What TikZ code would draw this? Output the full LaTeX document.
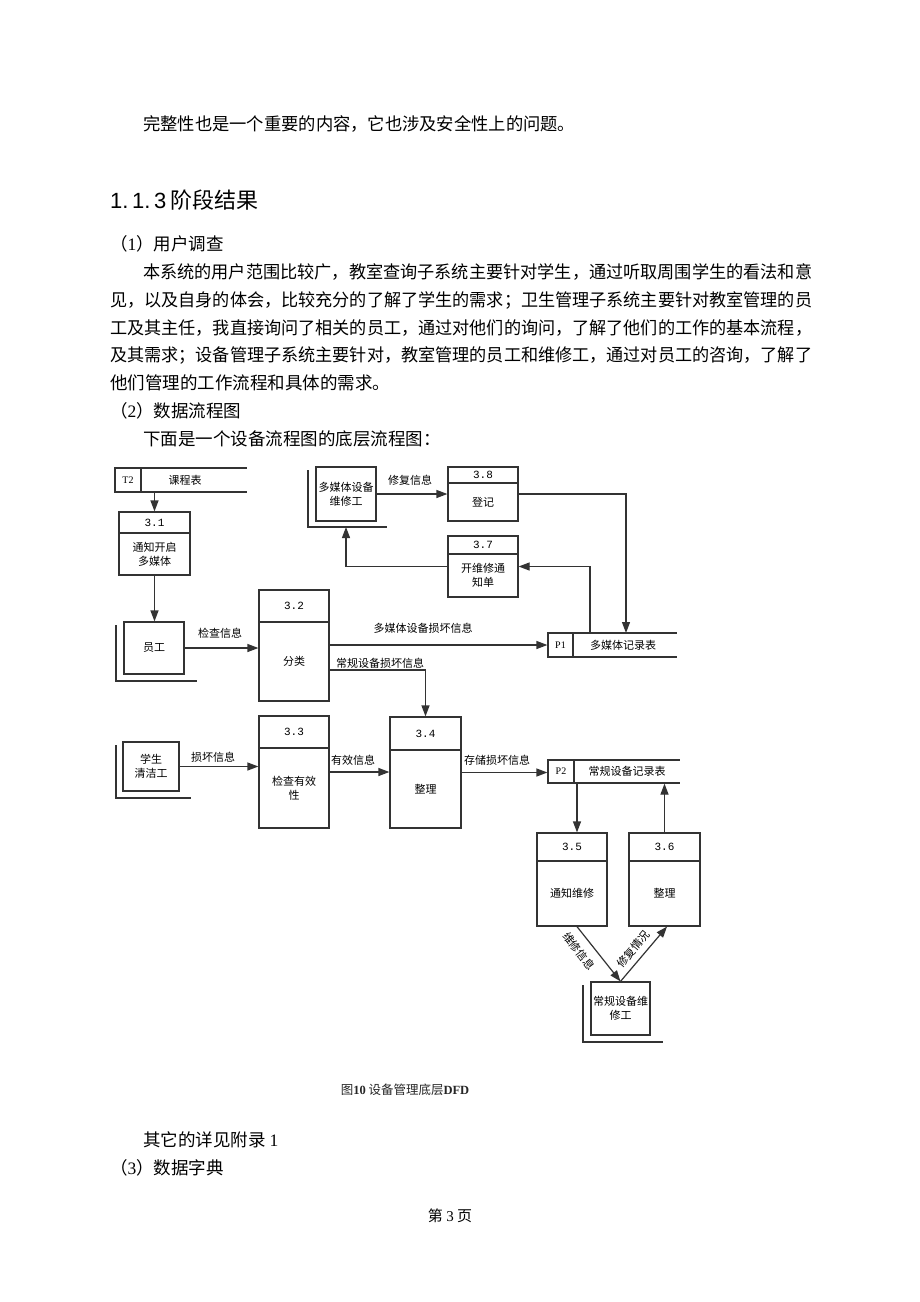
\documentclass[tikz,border=0pt]{standalone}
\usepackage{graphicx}
\usepackage{fontspec}
\setmainfont{Liberation Serif}
\newfontfamily\cjk{Noto Sans CJK SC}
\newfontfamily\arialf{Liberation Sans}
\newfontfamily\monof{Liberation Mono}
\usetikzlibrary{arrows.meta,calc}
\tikzset{
 ln/.style={draw=black!80, line width=1.2pt},
 arr/.style={ln, -{Triangle[length=11pt,width=8pt]}},
 box/.style={ln, rectangle, inner sep=0pt, fill=white},
 dtxt/.style={font=\cjk\fontsize{11}{14}\selectfont, inner sep=0pt, align=center},
 num/.style={font=\monof\fontsize{11}{13}\selectfont, inner sep=0pt},
 sid/.style={font=\rmfamily\fontsize{10}{12}\selectfont},
 btxt/.style={font=\cjk\fontsize{17.5}{20}\selectfont, inner sep=0pt, anchor=west},
}
% process box: name, x1, y1, x2, y2, divider y, number, text
\newcommand\procbox[8]{%
 \pgfmathsetmacro\pw{#4-#2}\pgfmathsetmacro\ph{#5-#3}%
 \node[box, minimum width=\pw pt, minimum height=\ph pt] (#1) at ({(#2+#4)/2},{(#3+#5)/2}) {};
 \draw[ln] (#2,#6) -- (#4,#6);
 \node[num] (#1n) at ({(#2+#4)/2},{(#3+#6)/2}) {#7};
 \node[dtxt] (#1t) at ({(#2+#4)/2},{(#6+#5)/2}) {#8};
}
% external entity: name, x1, y1, x2, y2, outer x, outer bottom y, outer right x, text
\newcommand\entity[9]{%
 \pgfmathsetmacro\pw{#4-#2}\pgfmathsetmacro\ph{#5-#3}%
 \draw[ln] (#6,{#3+3}) -- (#6,#7) -- (#8,#7);
 \node[box, dtxt, minimum width=\pw pt, minimum height=\ph pt] (#1) at ({(#2+#4)/2},{(#3+#5)/2}) {#9};
}
% data store: name, x1, y1, x2, y2, line end x, id, label, label x
\newcommand\datastore[9]{%
 \pgfmathsetmacro\pw{#4-#2}\pgfmathsetmacro\ph{#5-#3}%
 \node[box, sid, minimum width=\pw pt, minimum height=\ph pt] (#1) at ({(#2+#4)/2},{(#3+#5)/2}) {#7};
 \draw[ln] (#4,#3) -- (#6,#3);
 \draw[ln] (#4,#5) -- (#6,#5);
 \node[dtxt] (#1l) at (#9,{(#3+#5)/2}) {#8};
}
\begin{document}
\begin{tikzpicture}[x=1pt,y=-1pt]
\fill[white] (0,0) rectangle (920,1302);
\useasboundingbox (0,0) rectangle (920,1302);

% ---------- page text ----------
\node[btxt] (t0) at (143,124) {\resizebox{432pt}{\height}{完整性也是一个重要的内容，它也涉及安全性上的问题。}};
\node[anchor=west, inner sep=0pt] (head) at (110,200) {\fontsize{22}{26}\selectfont\arialf 1.\,1.\,3\,\cjk 阶段结果};
\node[btxt] (s1) at (110,244) {（{\rmfamily 1}）用户调查};
\node[btxt] (p1a) at (143,272) {\resizebox{669pt}{\height}{本系统的用户范围比较广，教室查询子系统主要针对学生，通过听取周围学生的看法和意}};
\node[btxt] (p1b) at (110,300) {\resizebox{702pt}{\height}{见，以及自身的体会，比较充分的了解了学生的需求；卫生管理子系统主要针对教室管理的员}};
\node[btxt] (p1c) at (110,328) {\resizebox{702pt}{\height}{工及其主任，我直接询问了相关的员工，通过对他们的询问，了解了他们的工作的基本流程，}};
\node[btxt] (p1d) at (110,355) {\resizebox{702pt}{\height}{及其需求；设备管理子系统主要针对，教室管理的员工和维修工，通过对员工的咨询，了解了}};
\node[btxt] (p1e) at (110,383) {他们管理的工作流程和具体的需求。};
\node[btxt] (s2) at (110,411) {（{\rmfamily 2}）数据流程图};
\node[btxt] (p2a) at (143,439) {下面是一个设备流程图的底层流程图：};

\node[btxt] (p3a) at (143,1140) {其它的详见附录 {\rmfamily 1}};
\node[btxt] (s3) at (110,1168) {（{\rmfamily 3}）数据字典};
\node[font=\cjk\fontsize{15}{18}\selectfont, inner sep=0pt] (pg) at (450,1216) {第 {\rmfamily 3} 页};
\node[font=\cjk\fontsize{12.5}{15}\selectfont, inner sep=0pt, text=black!85] (cap) at (405,1090) {图{\rmfamily\bfseries 10} 设备管理底层{\rmfamily\bfseries DFD}};

% ---------- diagram ----------
\datastore{t2}{115}{468}{141}{492}{247}{T2}{课程表}{185}
\datastore{p1}{548}{633}{573}{657}{677}{P1}{多媒体记录表}{623}
\datastore{p2}{548}{760}{574}{783}{680}{P2}{常规设备记录表}{627}

\procbox{p31}{119}{512}{190}{575}{533}{3.1}{通知开启\\多媒体}
\procbox{p32}{259}{590}{329}{701}{622}{3.2}{分类}
\procbox{p33}{259}{716}{329}{828}{748}{3.3}{检查有效\\性}
\procbox{p34}{390}{717}{461}{828}{750}{3.4}{整理}
\procbox{p35}{537}{833}{607}{926}{861}{3.5}{通知维修}
\procbox{p36}{629}{833}{700}{926}{861}{3.6}{整理}
\procbox{p37}{448}{536}{518}{597}{554}{3.7}{开维修通\\知单}
\procbox{p38}{448}{467}{518}{521}{483}{3.8}{登记}

\entity{media}{316}{467}{376}{521}{308}{527}{387}{多媒体设备\\维修工}
\entity{staff}{124}{622}{184}{674}{116}{681}{197}{员工}
\entity{student}{123}{742}{179}{791}{116}{798}{191}{学生\\清洁工}
\entity{repair}{591}{982}{650}{1035}{583}{1042}{663}{常规设备维\\修工}

\coordinate (p1in) at (626,633);
\coordinate (p1out) at (590,633);
\coordinate (mediain) at (346,527);

\draw[arr] (p31.north |- t2.south) -- (p31.north);
\draw[arr] (p31.south) -- (p31.south |- staff.north);
\draw[arr] (staff.east) -- (staff.east -| p32.west);
\draw[arr] (p32.east |- p1.west) -- (p1.west);
\draw[arr] ([yshift=-24.5pt]p32.east) -| (p34.north);
\draw[arr] (student.east) -- (student.east -| p33.west);
\draw[arr] (p33.east) -- (p33.east -| p34.west);
\draw[arr] (p34.east) -- (p34.east -| p2.west);
\draw[arr] ([xshift=5pt]p35.north |- p2.south) -- ([xshift=5pt]p35.north);
\draw[arr] (p36.north) -- (p36.north |- p2.south);
\draw[arr] ([xshift=5pt]p35.south) -- (repair.north);
\draw[arr] (repair.north) -- ([xshift=2.5pt]p36.south);
\draw[arr] (p38.east) -| (p1in);
\draw[arr] (p1out) |- (p37.east);
\draw[arr] (p37.west) -| (mediain);
\draw[arr] (media.east) -- (media.east -| p38.west);

% connector labels
\node[dtxt] (l1) at (410,480) {修复信息};
\node[dtxt] (l2) at (220,633) {检查信息};
\node[dtxt] (l3) at (423,628) {多媒体设备损坏信息};
\node[dtxt] (l4) at (380,663) {常规设备损坏信息};
\node[dtxt] (l5) at (213,757) {损坏信息};
\node[dtxt] (l6) at (353,760) {有效信息};
\node[dtxt] (l7) at (497,760) {存储损坏信息};
\node[dtxt, rotate=-52.5] (l8) at (579,951) {维修信息};
\node[dtxt, rotate=50] (l9) at (633,949) {修复情况};
\end{tikzpicture}
\end{document}
